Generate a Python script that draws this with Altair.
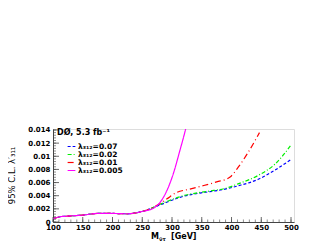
import altair as alt
import pandas as pd

# ---- data ----
common_m = [100, 112, 125, 150, 175, 200, 225, 240, 250]
common_v = [0.0005, 0.0008, 0.0009, 0.00105, 0.0013, 0.0013, 0.00125, 0.0014, 0.0016]

blue_m = [263, 280, 291, 319, 347, 370, 389, 411, 445, 473, 500]
blue_v = [0.0020, 0.0026, 0.0030, 0.0039, 0.0044, 0.0047, 0.0050, 0.0055, 0.0065, 0.0079, 0.0095]

green_m = [263, 280, 291, 319, 347, 370, 389, 411, 445, 473, 500]
green_v = [0.0020, 0.0027, 0.0031, 0.0040, 0.0045, 0.0048, 0.0051, 0.0058, 0.0071, 0.0088, 0.0117]

red_m = [263, 274, 291, 308, 330, 347, 375, 397, 411, 428, 447]
red_v = [0.0020, 0.0025, 0.0035, 0.0045, 0.0050, 0.0054, 0.0061, 0.0068, 0.0083, 0.0106, 0.0136]

mag_m = [260, 269, 280, 291, 302, 313, 323, 327]
mag_v = [0.0018, 0.0021, 0.0030, 0.0047, 0.0073, 0.0108, 0.0142, 0.0158]

series_names = ["λ₃₁₂=0.07", "λ₃₁₂=0.02", "λ₃₁₂=0.01", "λ₃₁₂=0.005"]
series_colors = ["#0000ff", "#00f000", "#ff0000", "#ff00ff"]
series_dash = [[3, 2], [4, 2, 1, 2], [6, 3, 1, 3], [1, 0]]

x_ticks = [100, 150, 200, 250, 300, 350, 400, 450, 500]
x_minor = list(range(100, 501, 10))
y_ticks = [0, 0.002, 0.004, 0.006, 0.008, 0.01, 0.012, 0.014]
y_minor = [round(i * 0.0004, 4) for i in range(0, 36)]

rows = []
for name, ms, vs in zip(series_names,
                        [blue_m, green_m, red_m, mag_m],
                        [blue_v, green_v, red_v, mag_v]):
    for m, v in zip(common_m + ms, common_v + vs):
        rows.append({"series": name, "m": m, "v": v})
df = pd.DataFrame(rows)

W, H = 241, 93
FONT = "DejaVu Sans"

xs = alt.Scale(domain=[100, 505], nice=False, zero=False)
ys = alt.Scale(domain=[0, 0.01415], nice=False, zero=False)

xaxis = alt.Axis(
    values=x_ticks, format="d", tickSize=0, labelPadding=1, grid=False,
    labelOverlap=False, labelFlush=False,
    labelFont=FONT, labelFontSize=7, labelFontWeight="bold", labelColor="#000",
    domainColor="#444", title=None)
yaxis = alt.Axis(
    values=y_ticks, format=".3~f", tickSize=0, labelPadding=3, grid=False,
    labelOverlap=False, labelFlush=False,
    labelFont=FONT, labelFontSize=7, labelFontWeight="bold", labelColor="#000",
    domainColor="#444",
    title="95% C.L. λ′₃₁₁", titleAngle=270, titleX=-37, titleY=46,
    titleFont=FONT, titleFontSize=8.5, titleFontWeight="normal", titleColor="#000")

lines = alt.Chart(df).mark_line(clip=True, strokeWidth=1.2, interpolate="monotone").encode(
    x=alt.X("m:Q", scale=xs, axis=xaxis),
    y=alt.Y("v:Q", scale=ys, axis=yaxis),
    color=alt.Color("series:N", scale=alt.Scale(domain=series_names, range=series_colors),
                    legend=alt.Legend(orient="none", legendX=14, legendY=13, title=None,
                                      symbolType="stroke", symbolSize=60, symbolStrokeWidth=1.2,
                                      labelFont=FONT, labelFontSize=7.5, labelFontWeight="bold",
                                      labelColor="#000", rowPadding=-0.5, labelOffset=2,
                                      padding=0)),
    strokeDash=alt.StrokeDash("series:N", scale=alt.Scale(domain=series_names, range=series_dash),
                              legend=None),
)

xt_df = pd.DataFrame({"m": x_ticks})
xm_df = pd.DataFrame({"m": x_minor})
yt_df = pd.DataFrame({"v": y_ticks})
ym_df = pd.DataFrame({"v": y_minor})

xt = alt.Chart(xt_df).mark_rule(color="#444", strokeWidth=0.8).encode(
    x=alt.X("m:Q", scale=xs, axis=xaxis), y=alt.value(H), y2=alt.value(H - 5))
xm = alt.Chart(xm_df).mark_rule(color="#444", strokeWidth=0.6).encode(
    x=alt.X("m:Q", scale=xs, axis=xaxis), y=alt.value(H), y2=alt.value(H - 2.5))
yt = alt.Chart(yt_df).mark_rule(color="#444", strokeWidth=0.8).encode(
    y=alt.Y("v:Q", scale=ys, axis=yaxis), x=alt.value(0), x2=alt.value(6))
ym = alt.Chart(ym_df).mark_rule(color="#444", strokeWidth=0.6).encode(
    y=alt.Y("v:Q", scale=ys, axis=yaxis), x=alt.value(0), x2=alt.value(3))

label = alt.Chart(pd.DataFrame({"s": ["DØ, 5.3 fb⁻¹"]})).mark_text(
    align="left", baseline="middle", font=FONT, fontSize=8, fontWeight="bold", color="#000"
).encode(text="s:N", x=alt.value(4), y=alt.value(4))

xtitle_m = alt.Chart(pd.DataFrame({"s": ["M"]})).mark_text(
    align="left", baseline="middle", font=FONT, fontSize=8, fontWeight="bold", color="#000"
).encode(text="s:N", x=alt.value(98), y=alt.value(H + 15))
xtitle_sub = alt.Chart(pd.DataFrame({"s": ["ν̃τ"]})).mark_text(
    align="left", baseline="middle", font=FONT, fontSize=5, fontWeight="bold", color="#000"
).encode(text="s:N", x=alt.value(106), y=alt.value(H + 17))
xtitle_gev = alt.Chart(pd.DataFrame({"s": ["[GeV]"]})).mark_text(
    align="left", baseline="middle", font=FONT, fontSize=8, fontWeight="bold", color="#000"
).encode(text="s:N", x=alt.value(118), y=alt.value(H + 15))

chart = alt.layer(lines, xm, xt, ym, yt, label, xtitle_m, xtitle_sub, xtitle_gev).properties(
    width=W, height=H,
    autosize=alt.AutoSizeParams(type="none"),
    padding={"left": 45, "top": 121, "right": 20, "bottom": 20},
).configure_view(stroke="#999", strokeWidth=1.5).configure(background="white")

chart.save("out.html", embed_options={"renderer": "svg", "actions": False})
